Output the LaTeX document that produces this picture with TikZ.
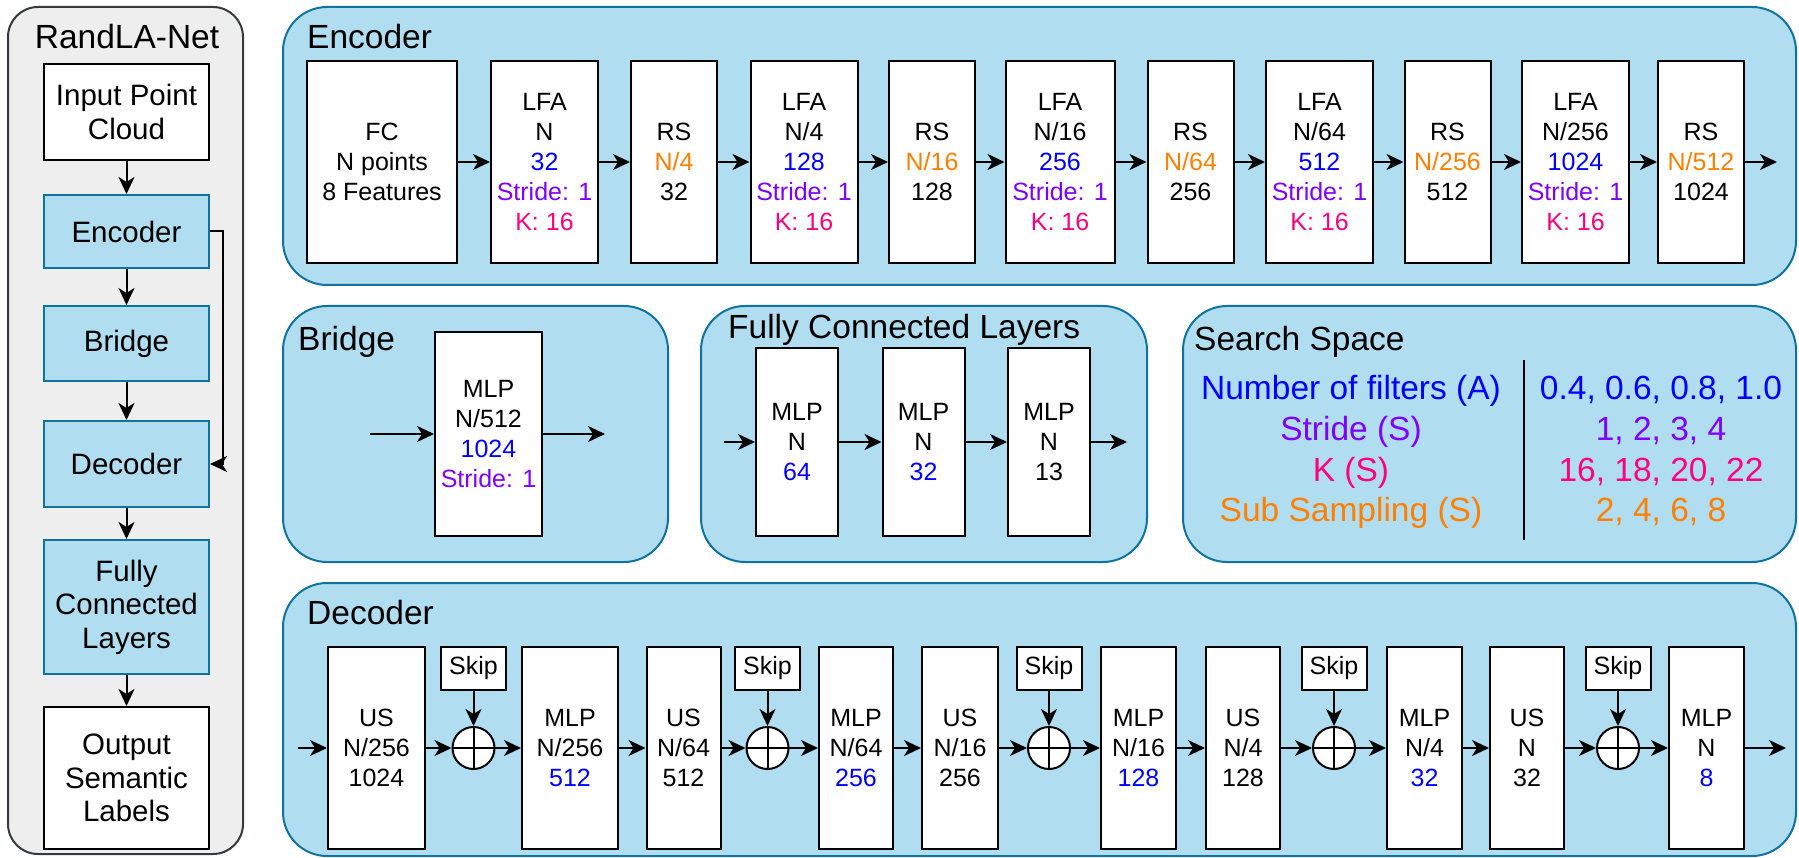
\documentclass[tikz,border=0pt]{standalone}
\usepackage{fontspec}
\setmainfont{Liberation Sans}
\usetikzlibrary{arrows.meta}

\definecolor{cblue}{HTML}{0000FF}
\definecolor{cpurple}{HTML}{7F00FF}
\definecolor{cpink}{HTML}{FF0080}
\definecolor{corange}{HTML}{FF8000}
\definecolor{panelfill}{HTML}{B1DDF0}
\definecolor{panelline}{HTML}{10739E}
\definecolor{greyfill}{HTML}{EEEEEE}
\definecolor{greyline}{HTML}{36393D}

\tikzset{
    panel/.style={draw=panelline, fill=panelfill, line width=2pt, rounded corners=44pt},
    blk/.style={draw, fill=white, line width=2pt, align=center, inner sep=0pt,
        minimum width=#1, minimum height=202pt, font=\fontsize{25}{30}\selectfont},
    sidebox/.style={draw=panelline, fill=panelfill, line width=2pt, align=center, inner sep=0pt,
        minimum width=165pt, font=\fontsize{29.5}{33.5}\selectfont},
    title/.style={anchor=base west, inner sep=0pt, font=\fontsize{33.5}{40}\selectfont},
    spacerow/.style={anchor=base, inner sep=0pt, font=\fontsize{33.5}{40}\selectfont, text=#1},
    arr/.style={-{Stealth[length=17pt,width=16pt,inset=5pt]}, line width=2pt},
    skipbox/.style={draw, fill=white, line width=2pt, inner sep=0pt, minimum width=65pt,
        minimum height=43pt, font=\fontsize{25}{30}\selectfont},
    addop/.style={circle, draw, fill=white, line width=2pt, inner sep=0pt, minimum size=42pt},
}

\begin{document}
\begin{tikzpicture}[x=1pt,y=-1pt]
        \useasboundingbox (0,0) rectangle (1799,858);

        % overview on the left
        \draw [draw=greyline, fill=greyfill, line width=2pt, rounded corners=30pt] (8,7) rectangle (243,854);
        \node [anchor=base, inner sep=0pt, font=\fontsize{33.5}{40}\selectfont] (rtitle) at (127,48.5) {RandLA-Net};
        \node [sidebox, draw=black, fill=white, minimum height=96pt] (inp) at (126.5,112) {Input Point\\Cloud};
        \node [sidebox, minimum height=73pt] (enc) at (126.5,231.5) {Encoder};
        \node [sidebox, minimum height=75pt] (brg) at (126.5,343.5) {Bridge};
        \node [sidebox, minimum height=86pt] (dec) at (126.5,464) {Decoder};
        \node [sidebox, minimum height=134pt] (fcl) at (126.5,607) {Fully\\Connected\\Layers};
        \node [sidebox, draw=black, fill=white, minimum height=142pt] (outp) at (126.5,778) {Output\\Semantic\\Labels};
        \foreach \a/\b in {inp/enc, enc/brg, brg/dec, dec/fcl, fcl/outp} {
            \draw [arr] (\a) -- (\b);
        }
        \draw [arr] (enc.east) -- ++(13,0) |- (dec.east);

        % encoder
        \draw [panel] (283,7) rectangle (1796,285);
        \node [title] (enctitle) at (307,48.5) {Encoder};
        \node [blk=150pt] (fc) at (382,162) {FC\\N points\\8 Features};
        \node [blk=107pt] (lfa1) at (544.5,162) {LFA\\N\\\textcolor{cblue}{32}\\\textcolor{cpurple}{Stride: 1}\\\textcolor{cpink}{K: 16}};
        \node [blk=86pt] (rs1) at (674,162) {RS\\\textcolor{corange}{N/4}\\32};
        \node [blk=107pt] (lfa2) at (804,162) {LFA\\N/4\\\textcolor{cblue}{128}\\\textcolor{cpurple}{Stride: 1}\\\textcolor{cpink}{K: 16}};
        \node [blk=86pt] (rs2) at (932,162) {RS\\\textcolor{corange}{N/16}\\128};
        \node [blk=109pt] (lfa3) at (1060,162) {LFA\\N/16\\\textcolor{cblue}{256}\\\textcolor{cpurple}{Stride: 1}\\\textcolor{cpink}{K: 16}};
        \node [blk=86pt] (rs3) at (1190.5,162) {RS\\\textcolor{corange}{N/64}\\256};
        \node [blk=107pt] (lfa4) at (1319.5,162) {LFA\\N/64\\\textcolor{cblue}{512}\\\textcolor{cpurple}{Stride: 1}\\\textcolor{cpink}{K: 16}};
        \node [blk=86pt] (rs4) at (1447.5,162) {RS\\\textcolor{corange}{N/256}\\512};
        \node [blk=107pt] (lfa5) at (1575.5,162) {LFA\\N/256\\\textcolor{cblue}{1024}\\\textcolor{cpurple}{Stride: 1}\\\textcolor{cpink}{K: 16}};
        \node [blk=86pt] (rs5) at (1701,162) {RS\\\textcolor{corange}{N/512}\\1024};
        \coordinate (encout) at (1777,162);
        \foreach \a/\b in {fc/lfa1, lfa1/rs1, rs1/lfa2, lfa2/rs2, rs2/lfa3, lfa3/rs3, rs3/lfa4, lfa4/rs4, rs4/lfa5, lfa5/rs5, rs5/encout} {
            \draw [arr] (\a) -- (\b);
        }

        % bridge
        \draw [panel] (283,306) rectangle (668,562);
        \node [title] (brgtitle) at (298,350.5) {Bridge};
        \node [blk=107pt, minimum height=204pt] (mlpb) at (488.5,434) {MLP\\N/512\\\textcolor{cblue}{1024}\\\textcolor{cpurple}{Stride: 1}};
        \coordinate (brgin) at (370,434);
        \coordinate (brgout) at (605,434);
        \draw [arr] (brgin) -- (mlpb);
        \draw [arr] (mlpb) -- (brgout);

        % fully connected layers
        \draw [panel] (701,306) rectangle (1147,562);
        \node [title] (fctitle) at (728,338.5) {Fully Connected Layers};
        \node [blk=82pt, minimum height=188pt] (fc1) at (797,442) {MLP\\N\\\textcolor{cblue}{64}};
        \node [blk=82pt, minimum height=188pt] (fc2) at (923.5,442) {MLP\\N\\\textcolor{cblue}{32}};
        \node [blk=82pt, minimum height=188pt] (fc3) at (1049,442) {MLP\\N\\13};
        \coordinate (fcin) at (724,442);
        \coordinate (fcout) at (1127,442);
        \foreach \a/\b in {fcin/fc1, fc1/fc2, fc2/fc3, fc3/fcout} {
            \draw [arr] (\a) -- (\b);
        }

        % search space
        \draw [panel] (1183,306) rectangle (1796,562);
        \node [title] (sstitle) at (1194,350.5) {Search Space};
        \draw [line width=1.5pt] (1524,360) -- (1524,540);
        \node [spacerow=cblue] (opa) at (1351,399.5) {Number of filters (A)};
        \node [spacerow=cpurple] (ops) at (1351,440.5) {Stride (S)};
        \node [spacerow=cpink] (opk) at (1351,481.5) {K (S)};
        \node [spacerow=corange] (opss) at (1351,521.5) {Sub Sampling (S)};
        \node [spacerow=cblue] (vala) at (1661,399.5) {0.4, 0.6, 0.8, 1.0};
        \node [spacerow=cpurple] (vals) at (1661,440.5) {1, 2, 3, 4};
        \node [spacerow=cpink] (valk) at (1661,481.5) {16, 18, 20, 22};
        \node [spacerow=corange] (valss) at (1661,521.5) {2, 4, 6, 8};

        % decoder
        \draw [panel] (283,583) rectangle (1796,856);
        \node [title] (dectitle) at (307,624.5) {Decoder};
        \node [blk=97pt] (us1) at (376.5,748) {US\\N/256\\1024};
        \node [blk=96pt] (mlp1) at (570,748) {MLP\\N/256\\\textcolor{cblue}{512}};
        \node [blk=74pt] (us2) at (683.5,748) {US\\N/64\\512};
        \node [blk=74pt] (mlp2) at (856,748) {MLP\\N/64\\\textcolor{cblue}{256}};
        \node [blk=76pt] (us3) at (960,748) {US\\N/16\\256};
        \node [blk=75pt] (mlp3) at (1138.5,748) {MLP\\N/16\\\textcolor{cblue}{128}};
        \node [blk=74pt] (us4) at (1243,748) {US\\N/4\\128};
        \node [blk=75pt] (mlp4) at (1424.5,748) {MLP\\N/4\\\textcolor{cblue}{32}};
        \node [blk=74pt] (us5) at (1527,748) {US\\N\\32};
        \node [blk=75pt] (mlp5) at (1706.5,748) {MLP\\N\\\textcolor{cblue}{8}};
        \foreach \i/\x in {1/473.5, 2/767.5, 3/1049, 4/1334, 5/1618} {
            \node [addop] (add\i) at (\x,748) {};
            \node [skipbox] (skip\i) at (\x,668.5) {Skip};
            \draw [line width=2pt] (add\i.north) -- (add\i.south) (add\i.west) -- (add\i.east);
            \draw [arr] (skip\i) -- (add\i);
        }
        \coordinate (decin) at (298,748);
        \coordinate (decout) at (1786,748);
        \foreach \a/\b in {decin/us1, us1/add1, add1/mlp1, mlp1/us2, us2/add2, add2/mlp2, mlp2/us3, us3/add3, add3/mlp3, mlp3/us4, us4/add4, add4/mlp4, mlp4/us5, us5/add5, add5/mlp5, mlp5/decout} {
            \draw [arr] (\a) -- (\b);
        }

\end{tikzpicture}
\end{document}
